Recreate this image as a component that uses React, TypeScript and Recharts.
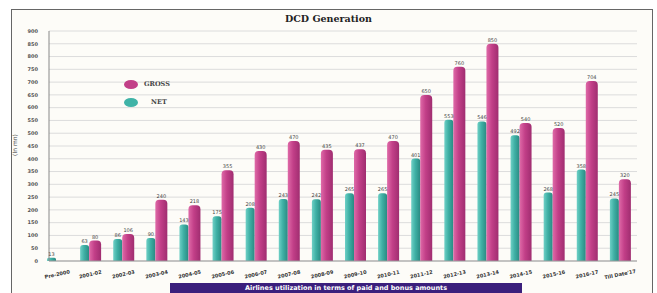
import React from "react";
import { BarChart, Bar, XAxis, YAxis, CartesianGrid, LabelList } from "recharts";

const categories = ["Pre-2000", "2001-02", "2002-03", "2003-04", "2004-05", "2005-06", "2006-07", "2007-08", "2008-09", "2009-10", "2010-11", "2011-12", "2012-13", "2013-14", "2014-15", "2015-16", "2016-17", "Till Date'17"];
const grossValues: (number | null)[] = [null, 80, 106, 240, 218, 355, 430, 470, 435, 437, 470, 650, 760, 850, 540, 520, 704, 320];
const netValues = [13, 63, 86, 90, 143, 175, 208, 243, 242, 265, 265, 401, 553, 546, 492, 268, 358, 245];
const yTicks = [0, 50, 100, 150, 200, 250, 300, 350, 400, 450, 500, 550, 600, 650, 700, 750, 800, 850, 900];
const seriesNames = ["GROSS", "NET"];

const data = categories.map((c, i) => ({ name: c, net: netValues[i], gross: grossValues[i] }));

const XTick = (props: any) => {
  const { x, y, payload } = props;
  return (
    <g transform={`translate(${x},${y + 7})`}>
      <text textAnchor="middle" fontSize={5} fontWeight={700} fill="#333" fontFamily="DejaVu Sans" transform="rotate(-12)">
        {payload.value}
      </text>
    </g>
  );
};

export default function App() {
  return (
    <div style={{ position: "absolute", left: 0, top: 0, width: 657, height: 293, background: "#fff", overflow: "hidden" }}>
      <div style={{ position: "absolute", left: 11, top: 9, width: 640, height: 300, border: "1px solid #666", background: "#fdfcf8" }} />
      <div style={{ position: "absolute", left: 0, top: 13, width: 657, textAlign: "center", fontFamily: "DejaVu Serif", fontWeight: 700, fontSize: 9.5, color: "#222" }}>
        DCD Generation
      </div>
      <div style={{ position: "absolute", left: 14, top: 145, transform: "translate(-50%,-50%) rotate(-90deg)", fontFamily: "DejaVu Sans", fontSize: 6, color: "#444", whiteSpace: "nowrap" }}>
        (In mn)
      </div>
      <div style={{ position: "absolute", left: 0, top: 0 }}>
        <BarChart width={657} height={293} data={data} margin={{ top: 31, right: 20, bottom: 2, left: 19 }} barGap={0} barCategoryGap="22%">
          <defs>
            <linearGradient id="tealG" x1="0" y1="0" x2="1" y2="0">
              <stop offset="0%" stopColor="#6fd0c6" />
              <stop offset="45%" stopColor="#3fb0a5" />
              <stop offset="100%" stopColor="#2a8a82" />
            </linearGradient>
            <linearGradient id="pinkG" x1="0" y1="0" x2="1" y2="0">
              <stop offset="0%" stopColor="#df6aa8" />
              <stop offset="45%" stopColor="#c23f88" />
              <stop offset="100%" stopColor="#a02d70" />
            </linearGradient>
          </defs>
          <CartesianGrid vertical={false} stroke="#dcdcdc" strokeWidth={1} />
          <XAxis dataKey="name" height={30} tick={<XTick />} tickLine={false} axisLine={{ stroke: "#999" }} interval={0} padding={{ left: -8, right: 0 }} />
          <YAxis width={30} domain={[0, 900]} ticks={yTicks} interval={0} tickLine={false} axisLine={{ stroke: "#888" }} tick={{ fontSize: 5, fill: "#555", fontFamily: "DejaVu Sans", fontWeight: 700 }} tickMargin={5} />
          <Bar dataKey="net" name={seriesNames[1]} fill="url(#tealG)" barSize={9} isAnimationActive={false} radius={[3, 3, 0, 0]}>
            <LabelList dataKey="net" position="top" offset={2} style={{ fontSize: 5, fill: "#444", fontFamily: "DejaVu Sans" }} />
          </Bar>
          <Bar dataKey="gross" name={seriesNames[0]} fill="url(#pinkG)" barSize={12} isAnimationActive={false} radius={[4, 4, 0, 0]}>
            <LabelList dataKey="gross" position="top" offset={2} style={{ fontSize: 5, fill: "#444", fontFamily: "DejaVu Sans" }} />
          </Bar>
        </BarChart>
      </div>
      <div style={{ position: "absolute", left: 124, top: 78, fontFamily: "DejaVu Serif", fontSize: 6.5, fontWeight: 700, color: "#444" }}>
        <div style={{ display: "flex", alignItems: "center", height: 12 }}>
          <span style={{ display: "inline-block", width: 14, height: 9, borderRadius: "50%", background: "#c23f88", marginRight: 6 }} />
          <span>{seriesNames[0]}</span>
        </div>
        <div style={{ display: "flex", alignItems: "center", height: 12, marginTop: 6 }}>
          <span style={{ display: "inline-block", width: 14, height: 9, borderRadius: "50%", background: "#3fb3a7", marginRight: 13 }} />
          <span>{seriesNames[1]}</span>
        </div>
      </div>
      <div style={{ position: "absolute", left: 170, top: 283, width: 352, height: 14, background: "#3b1f7c", color: "#fff", fontFamily: "DejaVu Sans", fontWeight: 700, fontSize: 6.5, textAlign: "center", lineHeight: "11px" }}>
        Airlines utilization in terms of paid and bonus amounts
      </div>
    </div>
  );
}
